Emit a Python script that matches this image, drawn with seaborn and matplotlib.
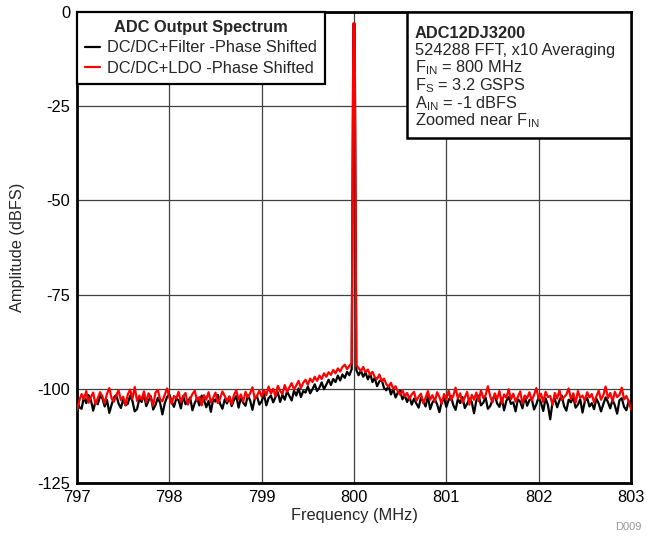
import matplotlib
matplotlib.use("Agg")
import matplotlib.pyplot as plt
from matplotlib.patches import Rectangle
import numpy as np
import pandas as pd
import seaborn as sns

# frequency grid of the zoomed spectrum (MHz), 0.025 MHz steps
freq = np.linspace(797, 803, 241)

# DC/DC+Filter -Phase Shifted (dBFS)
filt = [
    -102.6, -104.9, -105.3, -102.1, -103.8, -101.7, -102.9, -105.8, -103.4, -104.1,
    -101.9, -102.5, -104.7, -103.0, -106.4, -104.2, -102.3, -101.6, -103.9, -105.1,
    -102.8, -104.4, -104.0, -101.8, -103.2, -106.0, -105.4, -102.7, -103.5, -101.4,
    -104.6, -103.1, -102.0, -105.5, -104.3, -102.4, -103.7, -106.8, -103.9, -102.2,
    -101.5, -103.3, -104.8, -102.6, -103.0, -105.2, -101.9, -104.1, -103.6, -102.3,
    -105.7, -103.8, -102.5, -104.4, -101.8, -102.9, -104.9, -103.2, -106.1, -102.7,
    -103.4, -101.6, -104.0, -105.3, -102.8, -103.9, -102.1, -104.6, -103.0, -101.9,
    -105.0, -102.4, -103.7, -104.5, -101.7, -103.1, -105.6, -102.6, -102.0, -104.2,
    -103.3, -101.4, -104.4, -102.5, -101.8, -103.6, -102.2, -100.9, -103.5, -101.6,
    -102.9, -100.7, -101.9, -103.1, -100.5, -101.8, -99.9, -102.2, -100.6, -101.0,
    -99.4, -101.2, -100.1, -98.8, -100.6, -99.7, -98.3, -100.1, -98.9, -97.6,
    -99.0, -97.4, -98.2, -96.5, -97.8, -96.2, -97.1, -95.5, -96.4, -94.8,
    -3.2,
    -95.0, -96.4, -95.2, -96.8, -95.7, -97.5, -96.0, -98.2, -97.1, -99.3,
    -98.0, -97.6, -99.8, -100.4, -99.2, -101.5, -100.1, -102.3, -101.0, -100.6,
    -102.8, -101.7, -103.5, -102.1, -104.2, -102.6, -103.9, -105.0, -102.4, -103.3,
    -104.7, -102.0, -105.4, -103.6, -102.8, -104.1, -106.2, -103.4, -102.5, -104.8,
    -103.0, -101.9, -104.3, -105.6, -102.7, -103.8, -102.2, -105.1, -104.0, -102.6,
    -103.5, -106.5, -103.1, -101.8, -104.4, -103.7, -102.3, -105.3, -104.6, -102.9,
    -101.6, -103.9, -104.8, -102.4, -105.7, -103.2, -102.1, -104.0, -103.6, -106.0,
    -102.8, -103.4, -105.2, -101.9, -104.5, -103.0, -102.6, -105.5, -104.1, -102.2,
    -103.7, -105.9, -102.5, -104.3, -108.1, -103.5, -102.7, -104.9, -103.1, -101.8,
    -104.6, -105.8, -102.9, -103.6, -102.1, -105.0, -104.2, -102.8, -106.3, -103.3,
    -102.4, -104.7, -103.8, -105.4, -102.6, -103.9, -106.0, -104.1, -102.3, -103.5,
    -105.2, -102.9, -104.4, -106.6, -103.0, -102.5, -104.8, -105.7, -103.2, -104.9,
]

# DC/DC+LDO -Phase Shifted (dBFS)
ldo = [
    -105.6, -103.1, -101.4, -102.8, -100.6, -103.7, -102.2, -101.0, -104.1, -102.5,
    -100.9, -102.0, -103.9, -101.3, -99.8, -102.6, -103.4, -101.7, -100.4, -103.0,
    -102.1, -104.3, -101.5, -100.2, -102.7, -99.5, -103.2, -101.8, -102.9, -100.7,
    -103.6, -101.2, -102.4, -104.5, -101.0, -100.3, -102.8, -103.3, -101.6, -99.9,
    -102.3, -104.0, -101.9, -102.6, -100.8, -103.5, -102.0, -101.1, -104.2, -102.7,
    -101.4, -100.5, -103.1, -102.2, -104.4, -101.7, -102.9, -100.9, -103.6, -102.4,
    -101.0, -103.8, -102.5, -100.7, -101.9, -103.3, -102.0, -104.1, -101.6, -100.4,
    -102.8, -101.5, -103.4, -100.8, -102.3, -101.2, -99.6, -102.6, -101.8, -100.5,
    -102.1, -100.3, -101.7, -99.4, -101.3, -100.0, -102.0, -99.2, -100.6, -101.4,
    -99.0, -100.8, -99.6, -98.5, -100.2, -99.1, -97.9, -99.8, -98.4, -97.6,
    -98.9, -97.3, -98.2, -96.8, -97.9, -96.5, -97.4, -95.9, -96.8, -95.6,
    -96.3, -95.0, -95.9, -94.6, -95.4, -94.2, -93.6, -94.8, -93.9, -93.2,
    -3.0,
    -93.8, -94.5, -95.3, -94.2, -95.6, -94.9, -96.3, -95.5, -96.9, -97.4,
    -96.2, -98.0, -97.3, -98.8, -99.5, -98.4, -100.1, -99.3, -100.8, -101.6,
    -100.4, -102.0, -101.1, -102.7, -101.5, -100.8, -103.2, -102.1, -101.3, -103.8,
    -102.4, -100.6, -102.9, -101.7, -103.5, -100.9, -102.2, -104.0, -101.4, -102.8,
    -100.5, -103.0, -101.9, -99.7, -102.6, -101.2, -103.7, -102.3, -100.8, -104.2,
    -101.6, -102.9, -101.0, -103.3, -100.4, -102.5, -101.7, -99.3, -102.0, -103.6,
    -101.2, -102.7, -100.6, -103.9, -101.5, -102.4, -100.1, -102.8, -101.3, -103.4,
    -102.1, -100.7, -104.0, -101.8, -102.5, -100.9, -103.1, -101.6, -99.8, -102.7,
    -101.3, -103.5, -100.8, -102.2, -101.9, -104.3, -101.1, -102.6, -100.4, -103.0,
    -102.2, -101.5, -99.9, -102.8, -101.2, -103.7, -100.6, -102.4, -101.8, -103.2,
    -100.9, -102.3, -101.4, -103.6, -102.0, -100.5, -102.9, -101.7, -99.4, -102.5,
    -101.1, -103.4, -100.8, -102.2, -101.6, -99.7, -102.8, -101.9, -103.3, -105.4,
]

# flat top of the carrier tone, either side of 800 MHz
tone_freq = [799.993, 800.007]
tone_filt = [-3.2, -3.2]
tone_ldo = [-3.0, -3.0]

series_names = ["DC/DC+Filter -Phase Shifted", "DC/DC+LDO -Phase Shifted"]
series_colors = ["black", "red"]
x_ticks = [797, 798, 799, 800, 801, 802, 803]
y_ticks = [0, -25, -50, -75, -100, -125]
info_lines = ["ADC12DJ3200", "524288 FFT, x10 Averaging", "F$_{IN}$ = 800 MHz",
              "F$_{S}$ = 3.2 GSPS", "A$_{IN}$ = -1 dBFS", "Zoomed near F$_{IN}$"]

df = pd.concat([
    pd.DataFrame({"freq": np.r_[freq, tone_freq], "amp": filt + tone_filt, "series": series_names[0]}),
    pd.DataFrame({"freq": np.r_[freq, tone_freq], "amp": ldo + tone_ldo, "series": series_names[1]}),
]).sort_values(["series", "freq"])

sns.set_style("white")
plt.rcParams["font.family"] = ["Liberation Sans", "DejaVu Sans"]
plt.rcParams["mathtext.default"] = "regular"
plt.rcParams["axes.unicode_minus"] = False
fs = 11.8

fig = plt.figure(figsize=(6.57, 5.37), dpi=100)
ax = fig.add_axes([77 / 657, 1 - 483 / 537, 554 / 657, 471 / 537])

sns.lineplot(data=df, x="freq", y="amp", hue="series", hue_order=series_names,
             palette=series_colors, estimator=None, sort=True, linewidth=1.6, ax=ax, zorder=3)

ax.set_xlim(797, 803)
ax.set_ylim(-125, 0)
ax.set_xticks(x_ticks)
ax.set_yticks(y_ticks)
ax.grid(True, color="#404040", linewidth=0.9)
ax.set_axisbelow(True)
ax.tick_params(length=0, labelsize=fs, pad=5, colors="black")
for sp in ax.spines.values():
    sp.set_visible(True)
    sp.set_color("black")
    sp.set_linewidth(2)
ax.set_xlabel("Frequency (MHz)", fontsize=fs, labelpad=2)
ax.set_ylabel("Amplitude (dBFS)", fontsize=fs, labelpad=8.5)

leg = ax.legend(title="ADC Output Spectrum", loc="upper left", bbox_to_anchor=(0, 1),
                borderaxespad=0, fancybox=False, framealpha=1, edgecolor="black",
                fontsize=fs, title_fontproperties={"weight": "bold", "size": fs},
                handlelength=0.9, handletextpad=0.45, borderpad=0.5, labelspacing=0.32)
leg.get_frame().set_linewidth(1.6)
leg.set_zorder(5)

# info box in the upper right corner
box = Rectangle((0.596, 0.7325), 0.404, 0.2675, transform=ax.transAxes,
                facecolor="white", edgecolor="black", linewidth=1.8, zorder=5)
ax.add_patch(box)
base_px = [37.5, 55.1, 72.7, 90.3, 107.9, 125.5]
for i, (txt, py) in enumerate(zip(info_lines, base_px)):
    ax.text(0.610, 1 - (py - 12) / 471, txt, transform=ax.transAxes, fontsize=fs,
            fontweight="bold" if i == 0 else "normal", va="baseline", ha="left", zorder=6)

fig.text(628 / 657, 1 - 527 / 537, "D009", fontsize=8, color="#999999", ha="center", va="center")

fig.savefig("out.png", dpi=100)
